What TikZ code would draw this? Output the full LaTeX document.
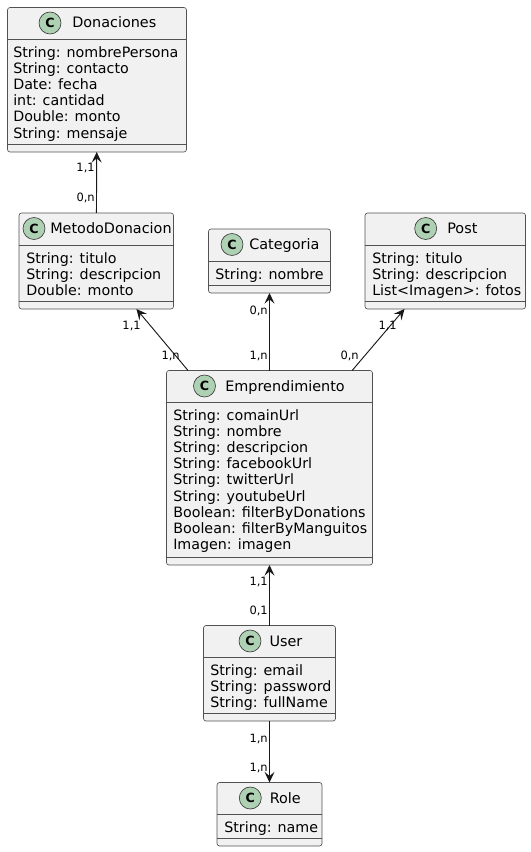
\documentclass[tikz,border=0pt]{standalone}
\usepackage{fontspec}
\setmainfont{DejaVu Sans}
\usetikzlibrary{arrows.meta}

\definecolor{boxfill}{HTML}{F1F1F1}
\definecolor{boxline}{HTML}{181818}
\definecolor{spotfill}{HTML}{ADD1B2}

\tikzset{
	classbox/.style={draw=boxline!75, fill=boxfill, line width=0.5pt, rounded corners=1.9pt, inner sep=0pt, outer sep=0pt},
	spot/.style={draw=boxline!85, fill=spotfill, circle, line width=0.5pt, minimum size=16.5pt, inner sep=0pt, font=\fontsize{9.5pt}{10pt}\selectfont\bfseries},
	title/.style={anchor=base west, inner sep=0pt, font=\fontsize{10.8pt}{12pt}\selectfont},
	attrs/.style={anchor=north west, inner sep=0pt, align=left, font=\fontsize{10.7pt}{12.15pt}\selectfont},
	card/.style={anchor=base east, inner sep=0pt, font=\fontsize{8.6pt}{10pt}\selectfont},
	link/.style={-{Stealth[length=8pt, width=7.5pt, inset=3.2pt]}, draw=boxline, line width=0.7pt}
}

\begin{document}
\begin{tikzpicture}[x=0.75pt, y=-0.75pt]

	\useasboundingbox (0,0) rectangle (531,852);
	\foreach[evaluate={\w=(\xb-\xa)*0.75; \h=(\yb-\ya)*0.75; \mx=(\xa+\xb)/2; \my=(\ya+\yb)/2;}] \n/\t/\xa/\ya/\xb/\yb/\yc/\yd/\xs/\xt in {
		don/Donaciones/7.5/7.5/186.5/152/39.5/144/50/72,
		met/MetodoDonacion/19/213/173.5/309/245/301/34/50,
		cat/Categoria/208.5/229/330.5/293/261/285/232/249,
		pos/Post/365/213/525.5/309/245/301/425.7/447,
		emp/Emprendimiento/166.5/370.5/372.5/565/402.5/557/204.5/225,
		usr/User/203.5/625.5/335.5/721/657.5/713/250/269.3,
		rol/Role/217/782.5/322/846/814.5/838/250.3/269.5}{
		\node[classbox, minimum width=\w pt, minimum height=\h pt] (\n) at (\mx,\my) {};
		\draw[boxline!75, line width=0.5pt] (\xa,\yc) -- (\xb,\yc);
		\draw[boxline!75, line width=0.5pt] (\xa,\yd) -- (\xb,\yd);
		\node[spot] (\n spot) at (\xs,\ya+15.5) {C};
		\node[title] (\n title) at (\xt,\ya+20.5) {\t};
	}

	\node[attrs] (donattrs) at (13,46) {String: nombrePersona\\String: contacto\\Date: fecha\\int: cantidad\\Double: monto\\String: mensaje};
	\node[attrs] (metattrs) at (26,252) {String: titulo\\String: descripcion\\Double: monto};
	\node[attrs] (catattrs) at (215,268) {String: nombre};
	\node[attrs] (posattrs) at (372,252) {String: titulo\\String: descripcion\\List<Imagen>: fotos};
	\node[attrs] (empattrs) at (173,409) {String: comainUrl\\String: nombre\\String: descripcion\\String: facebookUrl\\String: twitterUrl\\String: youtubeUrl\\Boolean: filterByDonations\\Boolean: filterByManguitos\\Imagen: imagen};
	\node[attrs] (usrattrs) at (210,664) {String: email\\String: password\\String: fullName};
	\node[attrs] (rolattrs) at (224,821) {String: name};

	\draw[link] (met) -- (don);
	\draw[link] (emp) -- (met);
	\draw[link] (emp) -- (cat);
	\draw[link] (emp) -- (pos);
	\draw[link] (usr) -- (emp);
	\draw[link] (usr) -- (rol);

	\node[card] (c1) at (95,172) {1,1};
	\node[card] (c2) at (95,202) {0,n};
	\node[card] (c3) at (141,329.5) {1,1};
	\node[card] (c4) at (180,359) {1,n};
	\node[card] (c5) at (268,314) {0,n};
	\node[card] (c6) at (268,359) {1,n};
	\node[card] (c7) at (397,329.5) {1,1};
	\node[card] (c8) at (359,359) {0,n};
	\node[card] (c9) at (268,585) {1,1};
	\node[card] (c10) at (268,614) {0,1};
	\node[card] (c11) at (268,742) {1,n};
	\node[card] (c12) at (268,771) {1,n};

\end{tikzpicture}
\end{document}
